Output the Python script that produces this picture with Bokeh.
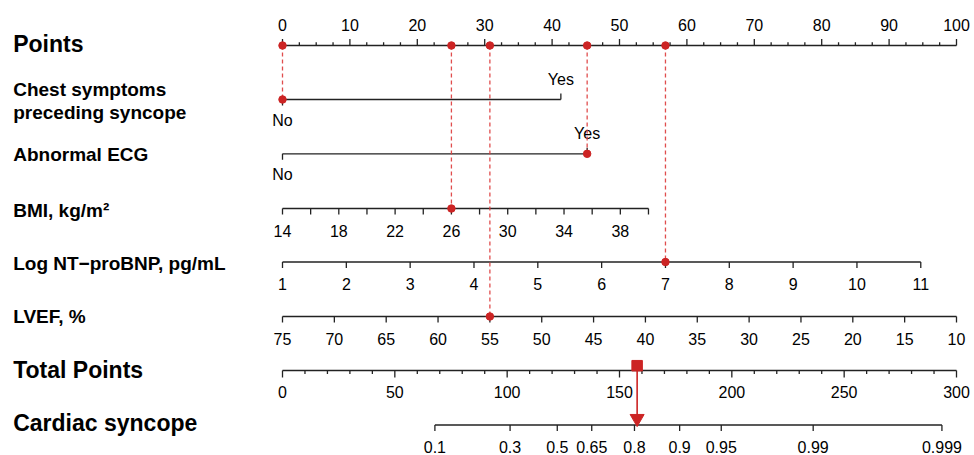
import math
from bokeh.plotting import figure
from bokeh.models import Range1d
from bokeh.core.properties import value
from bokeh.embed import file_html
from bokeh.resources import INLINE

# ---------------- data ----------------
points_range = [0, 100]
points_major = list(range(0, 101, 10))
points_minor_step = 2.5

chest_levels = ["No", "Yes"]
chest_points = [0.0, 41.3]
ecg_levels = ["No", "Yes"]
ecg_points = [0.0, 45.2]

bmi_range = [14, 40]
bmi_points_range = [0.0, 54.3]
bmi_ticks = list(range(14, 41, 2))
bmi_labels = list(range(14, 39, 4))

nt_range = [1, 11]
nt_points_range = [0.0, 94.7]
nt_ticks = list(range(1, 12))

lvef_range = [75, 10]
lvef_points_range = [0.0, 100.0]
lvef_ticks = list(range(75, 9, -5))

total_range = [0, 300]
total_major = list(range(0, 301, 50))
total_minor = list(range(0, 301, 10))

prob_ticks = [0.1, 0.3, 0.5, 0.65, 0.8, 0.9, 0.95, 0.99, 0.999]
prob_labels = ["0.1", "0.3", "0.5", "0.65", "0.8", "0.9", "0.95", "0.99", "0.999"]
lp_slope = 0.04034      # logit per total point
tp_at_half = 122.3      # total points where risk = 0.5

patient_chest = "No"
patient_ecg = "Yes"
patient_bmi = 26
patient_nt = 7
patient_lvef = 55

# ---------------- layout ----------------
W, H = 974, 455
px_per_unit = 6.74
x0_px = 282
FONT = value("Liberation Sans")
AX = "#222222"
RED = "#cc2424"
RED_D = "#dd3a3a"

y_pts, y_chest, y_ecg, y_bmi, y_nt, y_lvef, y_tot, y_car = 45, 99, 153.3, 208, 261.5, 316, 370, 424.5
lab_off = 22

def lin(v, vr, pr):
    return pr[0] + (v - vr[0]) / (vr[1] - vr[0]) * (pr[1] - pr[0])

p = figure(width=W, height=H, output_backend="svg", toolbar_location=None,
           x_axis_location=None, y_axis_location=None, min_border=0,
           x_range=Range1d(-x0_px / px_per_unit, (W - x0_px) / px_per_unit),
           y_range=Range1d(H, 0))
p.grid.visible = False
p.outline_line_color = None
p.background_fill_color = "white"

def axis_line(x_a, x_b, y):
    p.segment(x0=[x_a], y0=[y], x1=[x_b], y1=[y], line_color=AX, line_width=1.3)

def ticks(xs, y, length):
    p.segment(x0=xs, y0=[y] * len(xs), x1=xs, y1=[y + length] * len(xs),
              line_color=AX, line_width=1.3)

def labels(xs, y, texts, size="16px"):
    p.text(x=xs, y=[y] * len(xs), text=texts, text_font=FONT, text_font_size=size,
           text_align="center", text_baseline="middle", text_color="black")

# row titles
label_x = (12.7 - x0_px) / px_per_unit
title_rows = [("Points", y_pts - 1.5, "23px"),
              ("Chest symptoms", 88.5, "19px"),
              ("preceding syncope", 111.5, "19px"),
              ("Abnormal ECG", 154, "19px"),
              ("BMI, kg/m\u00b2", 209.5, "19px"),
              ("Log NT\u2212proBNP, pg/mL", 262.5, "19px"),
              ("LVEF, %", 316, "19px"),
              ("Total Points", 369, "23px"),
              ("Cardiac syncope", 422.5, "23px")]
for t, yy, sz in title_rows:
    p.text(x=[label_x], y=[yy], text=[t], text_font=FONT, text_font_size=sz,
           text_font_style="bold", text_align="left", text_baseline="middle", text_color="black")

# Points axis
axis_line(points_range[0], points_range[1], y_pts)
n_minor = int((points_range[1] - points_range[0]) / points_minor_step) + 1
minor = [points_range[0] + i * points_minor_step for i in range(n_minor)]
ticks([m for m in minor if m % 10 != 0], y_pts, -3.3)
ticks(points_major, y_pts, -6.5)
labels(points_major, y_pts - 20.5, [str(v) for v in points_major])

# Chest symptoms
axis_line(chest_points[0], chest_points[1], y_chest)
ticks([chest_points[0]], y_chest, 6)
ticks([chest_points[1]], y_chest, -6)
labels([chest_points[1]], y_chest - 20, [chest_levels[1]])
labels([chest_points[0]], y_chest + 21, [chest_levels[0]])

# Abnormal ECG
axis_line(ecg_points[0], ecg_points[1], y_ecg)
ticks([ecg_points[0]], y_ecg, 6)
ticks([ecg_points[1]], y_ecg, -6)
labels([ecg_points[1]], y_ecg - 20, [ecg_levels[1]])
labels([ecg_points[0]], y_ecg + 21, [ecg_levels[0]])

# BMI
axis_line(bmi_points_range[0], bmi_points_range[1], y_bmi)
ticks([lin(v, bmi_range, bmi_points_range) for v in bmi_ticks], y_bmi, 6)
labels([lin(v, bmi_range, bmi_points_range) for v in bmi_labels], y_bmi + lab_off, [str(v) for v in bmi_labels])

# NT-proBNP
axis_line(nt_points_range[0], nt_points_range[1], y_nt)
ticks([lin(v, nt_range, nt_points_range) for v in nt_ticks], y_nt, 6)
labels([lin(v, nt_range, nt_points_range) for v in nt_ticks], y_nt + lab_off, [str(v) for v in nt_ticks])

# LVEF
axis_line(lvef_points_range[0], lvef_points_range[1], y_lvef)
ticks([lin(v, lvef_range, lvef_points_range) for v in lvef_ticks], y_lvef, 6)
labels([lin(v, lvef_range, lvef_points_range) for v in lvef_ticks], y_lvef + lab_off, [str(v) for v in lvef_ticks])

# Total points (scaled into the Points axis units)
tp_to_x = lambda tp: lin(tp, total_range, points_range)
axis_line(tp_to_x(total_range[0]), tp_to_x(total_range[1]), y_tot)
ticks([tp_to_x(v) for v in total_minor if v % 50 != 0], y_tot, 3.5)
ticks([tp_to_x(v) for v in total_major], y_tot, 7)
labels([tp_to_x(v) for v in total_major], y_tot + 21, [str(v) for v in total_major])

# Cardiac syncope
def prob_to_x(pr):
    logit = math.log(pr / (1 - pr))
    return tp_to_x(tp_at_half + logit / lp_slope)
px = [prob_to_x(v) for v in prob_ticks]
axis_line(px[0], px[-1], y_car)
ticks(px, y_car, 6)
labels(px, y_car + 21.5, prob_labels)

# ---------------- patient ----------------
pt_chest = chest_points[chest_levels.index(patient_chest)]
pt_ecg = ecg_points[ecg_levels.index(patient_ecg)]
pt_bmi = lin(patient_bmi, bmi_range, bmi_points_range)
pt_nt = lin(patient_nt, nt_range, nt_points_range)
pt_lvef = lin(patient_lvef, lvef_range, lvef_points_range)
pts = [pt_chest, pt_ecg, pt_bmi, pt_nt, pt_lvef]
rows_y = [y_chest, y_ecg, y_bmi, y_nt, y_lvef]

p.segment(x0=pts, y0=[y_pts] * 5, x1=pts, y1=rows_y, line_color=RED_D,
          line_width=1.3, line_dash="4 3", line_alpha=0.9)
p.scatter(x=pts, y=[y_pts] * 5, size=7.5, marker="circle", fill_color=RED, line_color=RED)
p.scatter(x=pts, y=rows_y, size=7.5, marker="circle", fill_color=RED, line_color=RED)

total = sum(pts)
tx = tp_to_x(total)
p.scatter(x=[tx], y=[y_tot - 4.8], size=10.5, marker="square", fill_color=RED, line_color=RED)
p.segment(x0=[tx], y0=[y_tot], x1=[tx], y1=[y_car - 10], line_color=RED, line_width=1.6)
p.scatter(x=[tx], y=[y_car - 6.5], size=14, marker="inverted_triangle", fill_color=RED, line_color=RED)

open("out.html", "w").write(file_html(p, INLINE))
